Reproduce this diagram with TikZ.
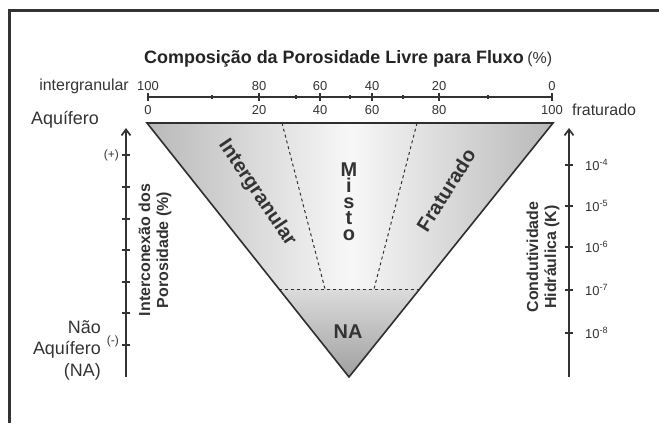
\documentclass[tikz,border=0pt]{standalone}
\usepackage{fontspec}
\setmainfont{Liberation Sans}
\usetikzlibrary{arrows.meta}
\definecolor{ink}{HTML}{333333}

\begin{document}
\begin{tikzpicture}[x=1bp, y=-1bp, every node/.style={text=ink, inner sep=0pt},
    axisline/.style={draw=ink, line width=1.7bp},
    axisarrow/.style={axisline, -{Straight Barb[length=6bp,width=9bp,line width=1.7bp]}},
    edge/.style={draw=ink!90!black, line width=1.6bp, line join=miter},
    divider/.style={draw=ink, line width=1bp, dash pattern=on 3bp off 3bp},
    scalenum/.style={font=\fontsize{13}{14}\selectfont},
    sidetext/.style={font=\fontsize{18}{22}\selectfont, align=right},
    axistitle/.style={font=\bfseries\fontsize{16}{18}\selectfont, align=center, rotate=90},
    zonetext/.style={font=\bfseries\fontsize{20}{22}\selectfont}]
    \useasboundingbox (0,0) rectangle (659,423);
    % frame
    \draw[ink, line width=3bp] (9,423) -- (9,10) -- (659,10);

    % title
    \node[font=\bfseries\fontsize{18}{20}\selectfont, anchor=west, text=ink!70!black] (title) at (144,59) {Composição da Porosidade Livre para Fluxo};
    \node[font=\fontsize{16}{18}\selectfont, anchor=west] (pct) at ([xshift=3bp]title.east) {(\%)};

    % composition scale
    \coordinate (sL) at (148,97);
    \coordinate (sR) at (552,97);
    \draw[axisline, line width=1.4bp] (sL) -- (sR);
    \foreach \tx in {148,259,320,372,439,552}
        \draw[axisline, line width=1.4bp] (\tx,93) -- (\tx,101);
    \foreach \tx in {212,296,350,403,488}
        \draw[axisline, line width=1.2bp] (\tx,95) -- (\tx,99);
    \foreach \tx/\up/\dn in {148/100/0, 259/80/20, 320/60/40, 372/40/60, 439/20/80, 552/0/100} {
        \node[scalenum] (up\up) at (\tx,86) {\up};
        \node[scalenum] (dn\dn) at (\tx,110) {\dn};
    }
    \node[font=\fontsize{16}{18}\selectfont, anchor=east] (igr) at (129,86) {intergranular};
    \node[font=\fontsize{16}{18}\selectfont, anchor=west] (frt) at (572,110) {fraturado};

    % triangle
    \coordinate (tl) at (147,123);
    \coordinate (tr) at (553,123);
    \coordinate (apex) at (349,377);
    \coordinate (nl) at (279,289);
    \coordinate (nr) at (419,289);
    \shade[left color=gray!55, right color=gray!55, middle color=gray!6] (tl) -- (tr) -- (apex) -- cycle;
    \shade[top color=gray!28, bottom color=gray!75] (nl) -- (nr) -- (apex) -- cycle;
    \draw[divider] (282,123) coordinate (d1t) -- (325,289) coordinate (d1b);
    \draw[divider] (417,123) coordinate (d2t) -- (374,289) coordinate (d2b);
    \draw[divider] (nl) -- (nr);
    \draw[edge] (tl) -- (tr) -- (apex) -- cycle;

    \node[zonetext, rotate=-56] (intg) at (257,193) {Intergranular};
    \node[zonetext, rotate=58] (frat) at (446,190) {Fraturado};
    \node[zonetext, font=\bfseries\fontsize{20}{16}\selectfont, align=center] (misto) at (349,202) {M\\i\\s\\t\\o};
    \node[zonetext] (na) at (348,332) {NA};

    % left axis
    \coordinate (lbot) at (126,377);
    \coordinate (ltop) at (126,128);
    \draw[axisarrow] (lbot) -- (ltop);
    \foreach \ty in {155,187,219,250,282,313,345}
        \draw[axisline, line width=1.4bp] (122,\ty) -- (130,\ty);
    \node[font=\fontsize{12}{13}\selectfont, anchor=east] (plus) at (119,155) {(+)};
    \node[font=\fontsize{12}{13}\selectfont, anchor=east] (minus) at (119,341) {(-)};
    \node[sidetext, anchor=center] (aq) at (65,120) {Aquífero};
    \node[sidetext, anchor=north east] (naq) at (101,320) {Não\\Aquífero\\(NA)};
    \node[axistitle] (inter) at (155,250) {Interconexão dos\\Porosidade (\%)};

    % right axis
    \coordinate (rbot) at (569,377);
    \coordinate (rtop) at (569,128);
    \draw[axisarrow] (rbot) -- (rtop);
    \foreach \ty/\ex in {165/4,206/5,247/6,290/7,333/8} {
        \draw[axisline, line width=1.4bp] (565,\ty) -- (573,\ty);
        \node[scalenum, anchor=west] (k\ex) at (585,\ty) {10\textsuperscript{-\ex}};
    }
    \node[axistitle] (cond) at (543,257) {Condutividade\\Hidráulica (K)};
\end{tikzpicture}
\end{document}
